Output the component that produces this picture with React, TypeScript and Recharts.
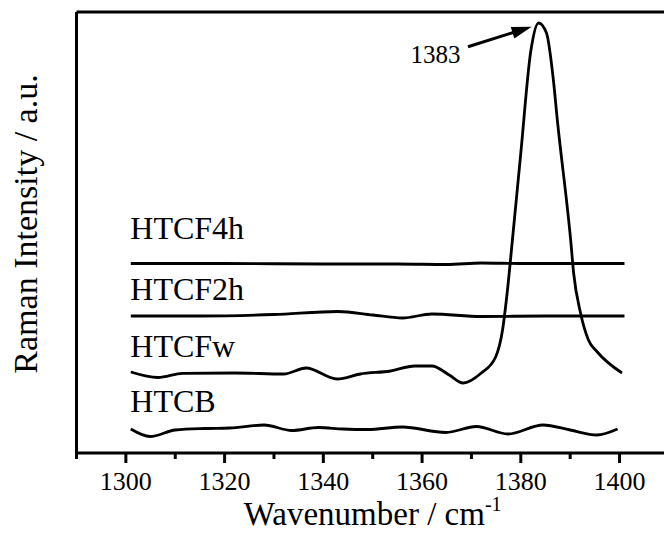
import { LineChart, Line, XAxis, YAxis, ReferenceLine, ReferenceDot } from "recharts";

const FONT = "'Liberation Serif', 'DejaVu Serif', 'Times New Roman', Times, serif";

// wavenumber (cm-1) / intensity (a.u.), offsets included
const htcbX = [1301, 1304.9, 1310, 1316, 1321, 1328, 1333.6, 1339, 1344, 1349, 1356, 1364.8, 1371, 1377.4, 1384.5, 1390, 1395.4, 1399.6];
const htcbY = [24, 16.5, 23, 24.5, 25, 28, 22.5, 25.5, 24, 23.5, 26, 20.5, 26.5, 19, 28, 23, 18, 24];

const htcfwX = [1301, 1306.5, 1311.5, 1322, 1332, 1336.5, 1342.8, 1347.5, 1353.6, 1358.5, 1362, 1365.5, 1368.3, 1372, 1374.9, 1376.3, 1377.3, 1378.3, 1380, 1382, 1383.6, 1385.2, 1386.6, 1387.4, 1390.1, 1390.7, 1392.1, 1393.7, 1395.5, 1400.5];
const htcfwY = [81, 75.5, 79.7, 80, 79, 85, 74, 79, 82, 87, 87, 78, 70, 80, 96, 123, 163, 213, 300, 401, 430, 420, 373, 333, 213, 180, 140, 113, 101, 80];

const htcf2hX = [1301, 1315, 1330, 1343, 1350, 1356, 1362, 1372, 1385, 1401];
const htcf2hY = [137, 137, 138.5, 141.5, 138, 135, 139, 136.5, 137, 137];

const htcf4hX = [1301, 1320, 1340, 1355, 1365, 1372, 1380, 1390, 1401];
const htcf4hY = [189.5, 189.5, 189, 189, 188.5, 190, 189.5, 189.5, 189.5];

const seriesNames = ["HTCF4h", "HTCF2h", "HTCFw", "HTCB"];
const nameSpots = [214, 153, 96.3, 41.3]; // baseline of each name, intensity units

const majorTicks = [1300, 1320, 1340, 1360, 1380, 1400];
const allTicks = [1290, 1300, 1310, 1320, 1330, 1340, 1350, 1360, 1370, 1380, 1390, 1400, 1410];

const peakLabel = "1383";
const arrowFrom = { x: 1369.3, y: 406.3 };
const arrowTo = { x: 1382.2, y: 426.3 };

const toPoints = (xs: number[], ys: number[]) => xs.map((x, i) => ({ x, v: ys[i] }));

function AxisTick(props: any) {
  const { x, y, payload } = props;
  const major = majorTicks.includes(payload.value);
  return (
    <g>
      <line x1={x} x2={x} y1={y} y2={y + (major ? 10 : 6)} stroke="#000" strokeWidth={3} />
      {major && (
        <text x={x} y={y + 37} textAnchor="middle" fontSize={26} fontFamily={FONT} fill="#000">
          {payload.value}
        </text>
      )}
    </g>
  );
}

const textLabel = (text: string, size: number, anchor: "start" | "end") => (props: any) => {
  const vb = props.viewBox;
  return (
    <text x={vb.x} y={vb.y} textAnchor={anchor} fontSize={size} fontFamily={FONT} fill="#000">
      {text}
    </text>
  );
};

function Arrow(props: any) {
  const { x1, y1, x2, y2 } = props;
  const dx = x2 - x1;
  const dy = y2 - y1;
  const len = Math.hypot(dx, dy);
  const ux = dx / len;
  const uy = dy / len;
  const bx = x2 - ux * 20;
  const by = y2 - uy * 20;
  return (
    <g>
      <line x1={x1} y1={y1} x2={bx + ux * 2} y2={by + uy * 2} stroke="#000" strokeWidth={3} />
      <polygon
        points={`${x2},${y2} ${bx - uy * 6},${by + ux * 6} ${bx + uy * 6},${by - ux * 6}`}
        fill="#000"
      />
    </g>
  );
}

function XTitle(props: any) {
  const vb = props.viewBox;
  const cx = vb.x + vb.width / 2;
  return (
    <text x={cx} y={vb.y + 72} textAnchor="middle" fontSize={33} fontFamily={FONT} fill="#000">
      Wavenumber / cm
      <tspan fontSize={20} dy={-14}>-1</tspan>
    </text>
  );
}

export default function App() {
  const series = [
    toPoints(htcf4hX, htcf4hY),
    toPoints(htcf2hX, htcf2hY),
    toPoints(htcfwX, htcfwY),
    toPoints(htcbX, htcbY),
  ];
  return (
    <div
      style={{
        position: "absolute",
        left: 0,
        top: 0,
        width: 664,
        height: 533,
        overflow: "hidden",
        background: "#fff",
        fontFamily: FONT,
      }}
    >
      <svg width={664} height={533} style={{ position: "absolute", left: 0, top: 0, pointerEvents: "none" }}>
        <text
          transform="translate(37,224) rotate(-90)"
          textAnchor="middle"
          fontSize={34}
          fontFamily={FONT}
          fill="#000"
        >
          Raman Intensity / a.u.
        </text>
      </svg>
      <LineChart width={700} height={533} margin={{ top: 12, right: 31.1, bottom: 79, left: 75.5 }}>
        <XAxis
          dataKey="x"
          type="number"
          domain={[1290, 1410]}
          ticks={allTicks}
          interval={0}
          height={1}
          tickSize={0}
          tickMargin={0}
          tickLine={false}
          tick={<AxisTick />}
          axisLine={{ stroke: "#000", strokeWidth: 3 }}
          allowDataOverflow
          label={<XTitle />}
        />
        <YAxis
          type="number"
          domain={[0, 441]}
          width={1}
          tick={false}
          tickLine={false}
          axisLine={{ stroke: "#000", strokeWidth: 3 }}
          allowDataOverflow
        />
        <ReferenceLine y={441} stroke="#000" strokeWidth={3} />
        {series.map((d, i) => (
          <Line
            key={seriesNames[i]}
            data={d}
            dataKey="v"
            type="monotone"
            stroke="#000"
            strokeWidth={2.8}
            dot={false}
            activeDot={false}
            isAnimationActive={false}
          />
        ))}
        {seriesNames.map((n, i) => (
          <ReferenceDot
            key={n}
            x={1300.9}
            y={nameSpots[i]}
            r={0}
            fill="none"
            stroke="none"
            label={textLabel(n, 32, "start")}
          />
        ))}
        <ReferenceDot
          x={1367.8}
          y={389.7}
          r={0}
          fill="none"
          stroke="none"
          label={textLabel(peakLabel, 25, "end")}
        />
        <ReferenceLine segment={[arrowFrom, arrowTo]} shape={<Arrow />} />
      </LineChart>
    </div>
  );
}
